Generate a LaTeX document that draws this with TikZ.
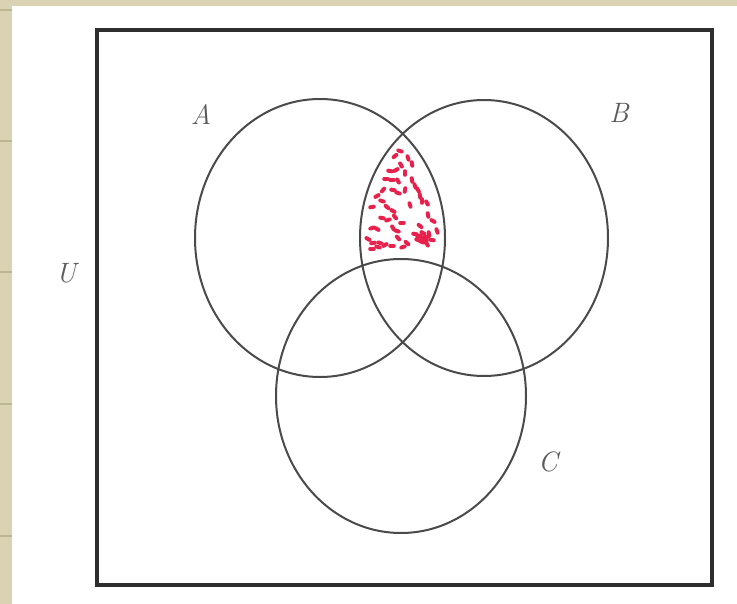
\documentclass[tikz,border=0pt]{standalone}
\usepackage{tikz}
\usetikzlibrary{calc}
\definecolor{beige}{HTML}{D9D3B3}
\definecolor{tickc}{HTML}{BDB692}
\definecolor{framec}{HTML}{2E2E2E}
\definecolor{circc}{HTML}{4A4A4A}
\definecolor{dotc}{HTML}{E8214C}
\definecolor{labc}{HTML}{5A5A5A}
\tikzset{
  setcircle/.style={draw=circc, line width=2pt},
  frameline/.style={draw=framec, line width=3.6pt},
  reddot/.style={draw=dotc, line width=4pt, line cap=round},
  setlabel/.style={text=labc, font=\fontsize{28}{28}\selectfont\itshape, inner sep=0pt},
  stripmark/.style={draw=tickc, line width=1.2pt}
}
\begin{document}
\begin{tikzpicture}[x=1pt,y=-1pt]
\useasboundingbox (0,0) rectangle (737,604);
% page background and strips
\fill[white] (0,0) rectangle (737,604);
\fill[beige] (0,0) rectangle (737,6);
\fill[beige] (0,0) rectangle (11.5,604);
\foreach \ty in {10,141,272,404,536} {
  \draw[stripmark] (0,\ty) -- (11.5,\ty);
}
% universal frame
\node[frameline, minimum width=615pt, minimum height=555pt, inner sep=0pt, anchor=north west] (U) at (95,28) {};
% sets
\coordinate (cA) at (320,238);
\draw[setcircle] (cA) ellipse [x radius=125, y radius=139];
\coordinate (cB) at (484,238);
\draw[setcircle] (cB) ellipse [x radius=124, y radius=138];
\coordinate (cC) at (401,396);
\draw[setcircle] (cC) ellipse [x radius=125, y radius=137];
% labels
\node[setlabel] (lA) at (201,115) {A};
\node[setlabel] (lB) at (619,113) {B};
\node[setlabel] (lC) at (548,462) {C};
\node[setlabel] (lU) at (66,273) {U};
% red dots in (A and B) minus C
\foreach \px/\py/\ang in {
  400/151/20, 395/156/-40, 408/158/70, 412/164/80,
  390/171/10, 396/170/-30, 405/173/90, 401/165/60,
  386/179/0, 392/180/0, 398/181/60, 412/180/80,
  415/186/70, 418/190/60, 383/190/-50, 393/190/10, 398/193/20, 405/190/100,
  420/196/80, 422/201/90, 377/196/-30, 382/201/20, 372/207/-10,
  387/207/40, 393/211/30, 427/203/60, 382/218/10, 388/220/-20,
  395/217/50, 402/223/0, 428/215/80, 433/221/30, 410/205/70,
  372/228/-20, 377/229/30, 393/228/60, 397/231/20, 420/226/40,
  415/234/10, 419/236/-20, 423/233/30, 426/237/0, 429/234/80, 418/240/20,
  422/238/40, 425/241/-10,
  437/231/70, 368/239/30, 373/243/-10, 380/243/20, 385/245/-30,
  398/238/50, 392/246/0, 407/243/40, 422/242/20, 427/244/60, 432/240/10,
  372/249/0, 378/247/20, 403/247/-20} {
  \draw[reddot] ($(\px,\py)+(\ang:-1.8)$) -- ($(\px,\py)+(\ang:1.8)$);
}
\end{tikzpicture}
\end{document}
